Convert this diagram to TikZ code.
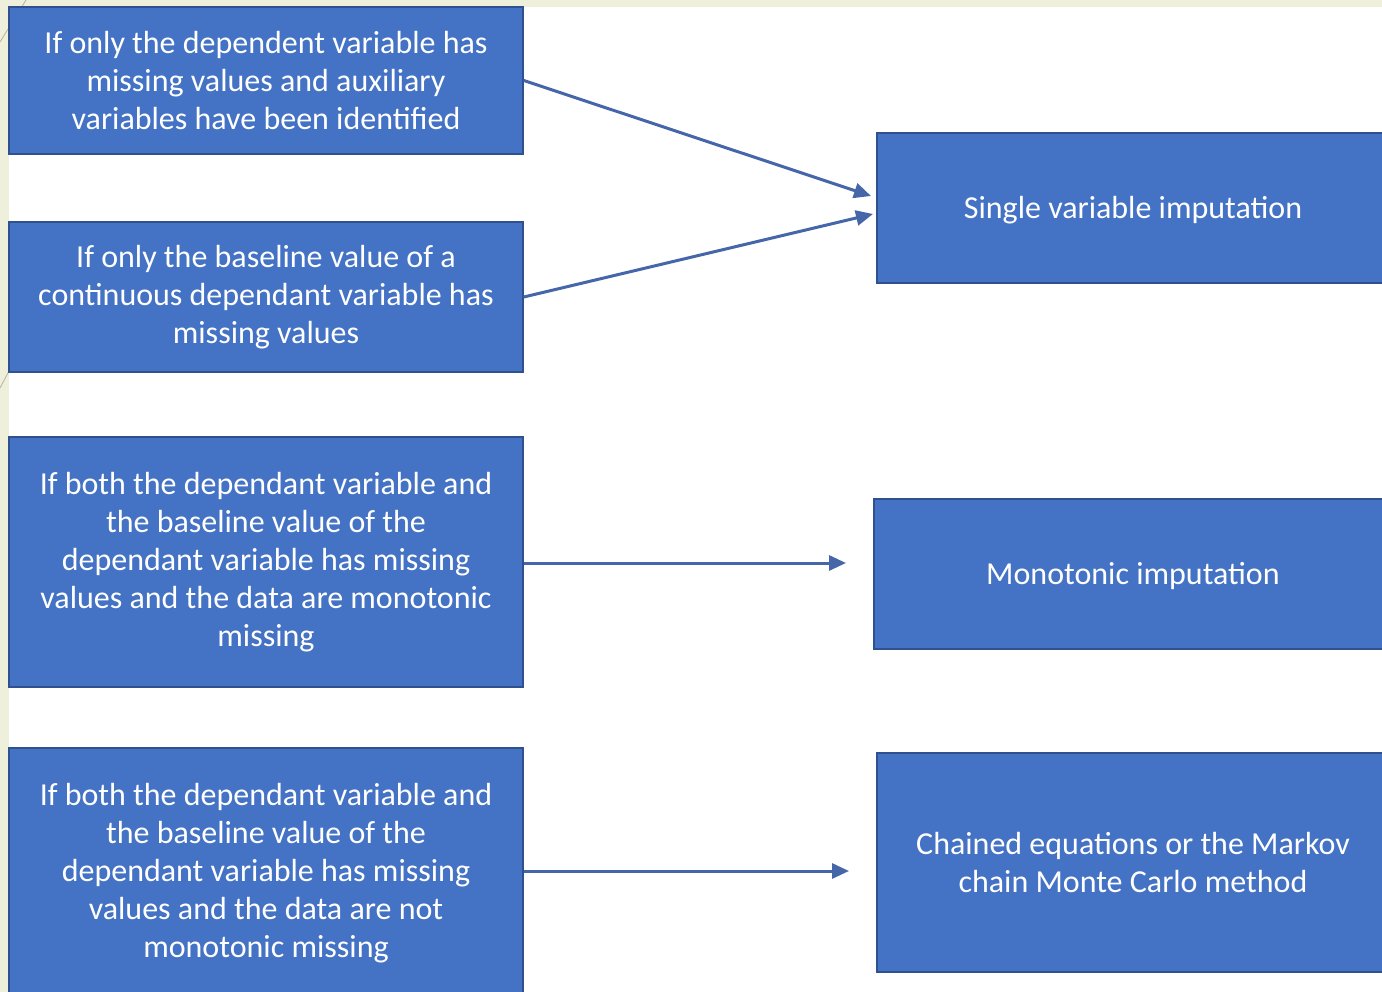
\documentclass[tikz,border=0pt]{standalone}
\usepackage{fontspec}
\setmainfont{Carlito}
\usetikzlibrary{arrows.meta}
\definecolor{boxblue}{HTML}{4472C4}
\definecolor{boxedge}{HTML}{2F528F}
\definecolor{cream}{HTML}{EEF0DC}
\definecolor{arrowblue}{HTML}{4566A8}
\definecolor{decoline}{HTML}{B8B49A}
\tikzset{
  stepbox/.style={fill=boxblue, draw=boxedge, line width=1.6pt, text=white,
    align=center, inner sep=0pt, font=\fontsize{32}{38}\selectfont},
  onebox/.style={stepbox, text depth=2pt},
  conn/.style={draw=arrowblue, line width=3pt,
    -{Triangle[length=17pt,width=15pt]}}
}
\begin{document}
\begin{tikzpicture}[x=1pt,y=-1pt]
\clip (0,0) rectangle (1382,992);
\fill[cream] (0,0) rectangle (1382,992);
\fill[white] (9,7) rectangle (1382,992);
\draw[decoline, line width=0.8pt] (0,42) -- (26,0);
\draw[decoline, line width=0.8pt] (0,388) -- (9,371);

\node[stepbox, minimum width=514pt, minimum height=147pt] (L1) at (266,80.5)
  {If only the dependent variable has\\missing values and auxiliary\\variables have been identified};
\node[stepbox, minimum width=514pt, minimum height=150pt] (L2) at (266,297)
  {If only the baseline value of a\\continuous dependant variable has\\missing values};
\node[stepbox, minimum width=514pt, minimum height=250pt] (L3) at (266,562)
  {If both the dependant variable and\\the baseline value of the\\dependant variable has missing\\values and the data are monotonic\\missing};
\node[stepbox, minimum width=514pt, minimum height=250pt] (L4) at (266,873)
  {If both the dependant variable and\\the baseline value of the\\dependant variable has missing\\values and the data are not\\monotonic missing};

\node[onebox, minimum width=512pt, minimum height=150pt] (R1) at (1133,208)
  {Single variable imputation};
\node[onebox, minimum width=518pt, minimum height=150pt] (R2) at (1133,574)
  {Monotonic imputation};
\node[stepbox, minimum width=512pt, minimum height=219pt] (R3) at (1133,862.5)
  {Chained equations or the Markov\\chain Monte Carlo method};

\coordinate (e1) at (871,196);
\coordinate (e2) at (873,214);
\coordinate (e3) at (846,563);
\coordinate (e4) at (849,871);

\draw[conn] (L1.east) -- (e1);
\draw[conn] (L2.east) -- (e2);
\draw[conn] (L3.east |- e3) -- (e3);
\draw[conn] (L4.east |- e4) -- (e4);
\end{tikzpicture}
\end{document}
